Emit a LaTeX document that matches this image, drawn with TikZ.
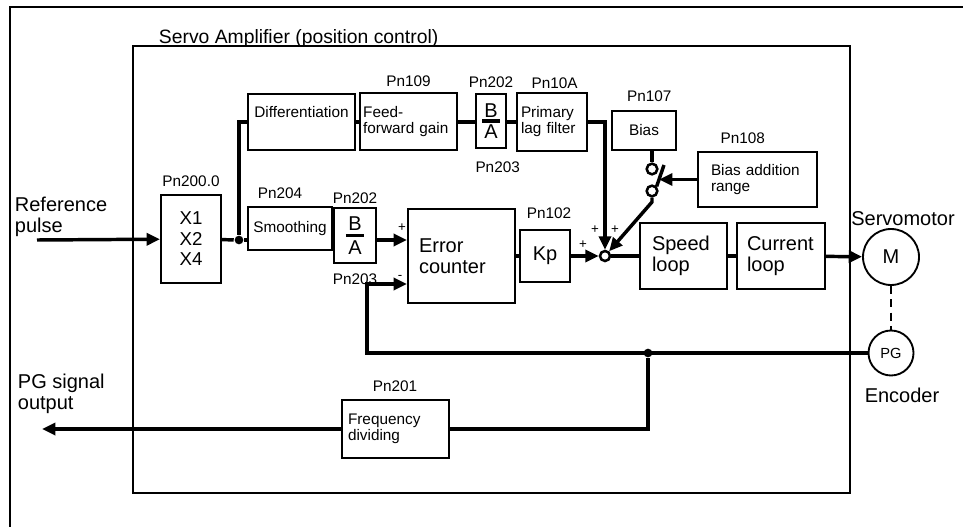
\documentclass[tikz,border=0pt]{standalone}
\usepackage{fontspec}
\setmainfont{Liberation Sans}
\usetikzlibrary{arrows.meta,positioning,calc}
\newcommand{\pnfont}{\fontsize{11.5}{12}\selectfont}
\newcommand{\blkfont}{\fontsize{15}{16}\selectfont}
\tikzset{
  every picture/.style={line width=1.4pt},
  blk/.style={draw, line width=1.5pt, inner sep=0pt, align=center, font=\blkfont},
  smallblk/.style={blk, font=\pnfont},
  pn/.style={inner sep=0pt, font=\pnfont},
  sign/.style={inner sep=0pt, font=\fontsize{10}{10}\selectfont},
  sig/.style={line width=2.6pt},
  arr/.style={-{Triangle[length=10pt,width=9pt]}},
  frame/.style={line width=1.6pt},
  contact/.style={circle, draw, line width=1.9pt, fill=white, minimum size=8pt, inner sep=0pt},
  junct/.style={circle, fill, minimum size=6.5pt, inner sep=0pt},
  bar/.style={line width=2.4pt},
}

\begin{document}
\begin{tikzpicture}[x=0.75pt, y=-0.75pt]
\useasboundingbox (0,0) rectangle (963,527);
% frames
\draw[frame] (10,527) |- (963,7);
\draw[frame] (133,46) rectangle (850,493);
\node[anchor=base west, inner sep=0pt, font=\fontsize{14.5}{15}\selectfont] (ttl) at (158,43.5) {Servo Amplifier (position control)};

% blocks
\node[blk, font=\fontsize{14}{15.4}\selectfont, minimum width=45pt, minimum height=66pt] (mult) at (191,239) {X1\\X2\\X4};
\node[smallblk, minimum width=80.25pt, minimum height=42pt] (diff) at (301.5,122) {Differentiation\\[3pt]\mbox{}};
\node[smallblk, align=left, text width=68pt, minimum width=72.75pt, minimum height=42.75pt] (ff) at (408.5,122) {Feed-\\forward gain};
\node[blk, minimum width=22.5pt, minimum height=40.5pt] (ba1) at (491,121) {B\\A};
\node[smallblk, align=left, text width=46.5pt, minimum width=52.5pt, minimum height=43.5pt] (lag) at (552,122) {Primary\\lag filter};
\node[smallblk, minimum width=48pt, minimum height=29.25pt] (bias) at (644,130.5) {Bias};
\node[smallblk, align=left, text width=69.75pt, minimum width=89.25pt, minimum height=41.25pt] (range) at (757.5,179.5) {Bias addition\\range};
\node[smallblk, minimum width=63pt, minimum height=32.25pt] (smooth) at (290,228.5) {Smoothing};
\node[blk, minimum width=31.5pt, minimum height=41.25pt] (ba2) at (355,235.5) {B\\[2pt]A};
\node[blk, align=left, text width=63.75pt, minimum width=80.25pt, minimum height=70.5pt] (ec) at (461.5,256) {Error\\counter};
\node[blk, minimum width=37.5pt, minimum height=39pt] (kp) at (545,256) {Kp};
\node[blk, align=left, text width=47.25pt, minimum width=65.25pt, minimum height=49.5pt] (speed) at (683.5,256) {Speed\\loop};
\node[blk, align=left, text width=51pt, minimum width=66pt, minimum height=49.5pt] (cur) at (781,256) {Current\\loop};
\node[smallblk, align=left, text width=70.5pt, minimum width=80.25pt, minimum height=43.5pt] (freq) at (395,429) {Frequency\\dividing};
\node[circle, draw, line width=1.9pt, minimum size=7.5pt, inner sep=0pt] (sum) at (605,256) {};
\node[contact] (c1) at (652,169) {};
\node[contact] (c2) at (652,191) {};
\node[junct] (dot) at (239,240) {};
\node[junct] (tap) at (648,353) {};
\node[circle, draw, minimum size=42pt, inner sep=0pt, font=\blkfont] (motor) at (891,257) {M};
\node[circle, draw, minimum size=33.75pt, inner sep=0pt, font=\fontsize{11}{11}\selectfont] (enc) at (891,353) {PG};

% parameter labels
\node[pn, above=4.9pt of mult] (pn2000) {Pn200.0};
\node[pn, above=3.4pt of ff] (pn109) {Pn109};
\node[pn, above=3.4pt of ba1] (pn202a) {Pn202};
\node[pn, below=8.6pt of ba1, xshift=5pt] (pn203a) {Pn203};
\node[pn, above=1.9pt of lag, xshift=2pt] (pn10a) {Pn10A};
\node[pn, above=5.6pt of bias, xshift=4pt] (pn107) {Pn107};
\node[pn, above=4.9pt of range, xshift=-11pt] (pn108) {Pn108};
\node[pn, above=4.9pt of smooth, xshift=-7.5pt] (pn204) {Pn204};
\node[pn, above=1.9pt of ba2] (pn202b) {Pn202};
\node[pn, below=7pt of ba2] (pn203b) {Pn203};
\node[pn, above=7pt of kp, xshift=3pt] (pn102) {Pn102};
\node[pn, above=4.9pt of freq] (pn201) {Pn201};

% outside texts
\node[anchor=west, align=left, inner sep=0pt, font=\blkfont] (refl) at (14,217) {Reference\\pulse};
\node[anchor=west, align=left, inner sep=0pt, font=\blkfont] (pgl) at (17,394) {PG signal\\output};
\node[inner sep=0pt, font=\blkfont] (mlbl) at (903,219) {Servomotor};
\node[inner sep=0pt, font=\blkfont] (elbl) at (902,395) {Encoder};

% signs
\node[sign] (p1) at (402,228) {+};
\node[sign] (m1) at (400,277) {-};
\node[sign] (p2) at (583,245) {+};
\node[sign] (p3) at (595,230) {+};
\node[sign] (p4) at (615,230) {+};

\coordinate (in) at (37,240);
\coordinate (out) at (42,429);
\coordinate (fbc) at (367,353);
\coordinate (lev) at (664,165);
\coordinate (hit) at (659,179.5);

% connectors
\draw[sig,arr] (in) -- (mult);
\draw[sig] (mult) -- (dot);
\draw[sig] (dot) |- (diff);
\draw[sig] (dot) -- (smooth.west |- dot);
\draw[sig] (diff) -- (ff);
\draw[sig] (ff) -- (ba1.west |- ff);
\draw[sig] (ba1.east |- lag) -- (lag);
\draw[sig,arr] (lag) -| (sum);
\draw[sig] (smooth.east |- dot) -- (ba2.west |- dot);
\draw[sig,arr] (ba2.east |- dot) -- (ec.west |- dot);
\draw[sig] (ec) -- (kp);
\draw[sig,arr] (kp) -- (sum);
\draw[sig] (sum) -- (speed);
\draw[sig] (speed) -- (cur);
\draw[sig,arr] (cur) -- (motor);
\draw[line width=2.2pt, dash pattern=on 6pt off 4pt] (motor) -- (enc);
\draw[sig,arr] (enc) -- (fbc) |- ([yshift=15pt]ec.south west);
\draw[sig] (tap) |- (freq);
\draw[sig,arr] (freq) -- (out);
% bias switch
\draw[sig] (c1 |- bias.south) -- (c1);
\draw[sig] (c2.north east) -- (lev);
\draw[sig,arr] (range) -- (hit);
\draw[sig,arr] (c2) -- ++(0,11) -- (sum);
% fraction bars
\draw[bar] ([xshift=-6.5pt]ba1.center) -- ([xshift=6.5pt]ba1.center);
\draw[bar] ([xshift=-6.8pt]ba2.center) -- ([xshift=6.8pt]ba2.center);
\end{tikzpicture}
\end{document}
